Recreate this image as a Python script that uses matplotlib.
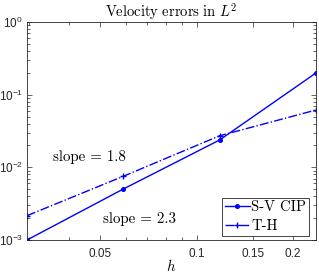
import matplotlib
matplotlib.use('Agg')
from matplotlib import pyplot as plt
from matplotlib.ticker import FixedLocator, FixedFormatter, NullFormatter
import numpy as np

# mesh sizes and errors
h = [np.sqrt(2) / 48, np.sqrt(2) / 24, np.sqrt(2) / 12, np.sqrt(2) / 6]
err_sv_cip = [0.00100, 0.00503, 0.0238, 0.199]
err_th = [0.00216, 0.00753, 0.0272, 0.0615]
xticks = [0.05, 0.1, 0.15, 0.2]
xtick_labels = ['0.05', '0.1', '0.15', '0.2']
yticks = [1e-3, 1e-2, 1e-1, 1e0]

plt.rcParams['font.family'] = 'Liberation Sans'
plt.rcParams['mathtext.fontset'] = 'custom'
plt.rcParams['mathtext.rm'] = 'Liberation Sans'
plt.rcParams['mathtext.it'] = 'Liberation Sans:italic'

fig = plt.figure(figsize=(3.19, 2.73), dpi=100)
ax = fig.add_axes([0.0846, 0.1209, 0.906, 0.7985])

blue = (0, 0, 1)
ax.loglog(h, err_sv_cip, '-', color=blue, lw=1, marker='o', ms=2.6, label='S-V CIP')
ax.loglog(h, err_th, '-.', color=blue, lw=1, marker='+', ms=4, label='T-H')

ax.set_xlim(h[0], h[-1])
ax.set_ylim(1e-3, 1e0)
ax.xaxis.set_major_locator(FixedLocator(xticks))
ax.xaxis.set_major_formatter(FixedFormatter(xtick_labels))
ax.xaxis.set_minor_formatter(NullFormatter())
ax.yaxis.set_major_locator(FixedLocator(yticks))

edge = '#262626'
for s in ax.spines.values():
    s.set_color(edge)
    s.set_linewidth(0.6)
ax.tick_params(which='both', direction='in', top=True, right=True, colors=edge,
               labelsize=8.5, width=0.5)
ax.tick_params(which='major', length=3.5)
ax.tick_params(which='minor', length=2)
ax.tick_params(axis='x', pad=5.5)
ax.tick_params(axis='y', pad=3)

ax.set_title(r'$\mathrm{Velocity\ errors\ in\ }L^2$', fontsize=10.5,
             math_fontfamily='cm', pad=3)
ax.set_xlabel(r'$h$', fontsize=10.5, math_fontfamily='cm', labelpad=-1)

ax.text(0.216, 0.381, 'slope = 1.8', transform=ax.transAxes, fontsize=10.8,
        family='cmr10', ha='center', va='center')
ax.text(0.388, 0.096, 'slope = 2.3', transform=ax.transAxes, fontsize=10.8,
        family='cmr10', ha='center', va='center')

leg = ax.legend(loc='lower right', bbox_to_anchor=(0.976, 0.018),
                prop={'family': 'cmr10', 'size': 10.5},
                fancybox=False, framealpha=1, edgecolor=edge,
                borderaxespad=0, handlelength=1.7, handletextpad=0.1,
                labelspacing=0.35, borderpad=0.2)
leg.get_frame().set_linewidth(0.6)

fig.savefig('out.png', dpi=100)
